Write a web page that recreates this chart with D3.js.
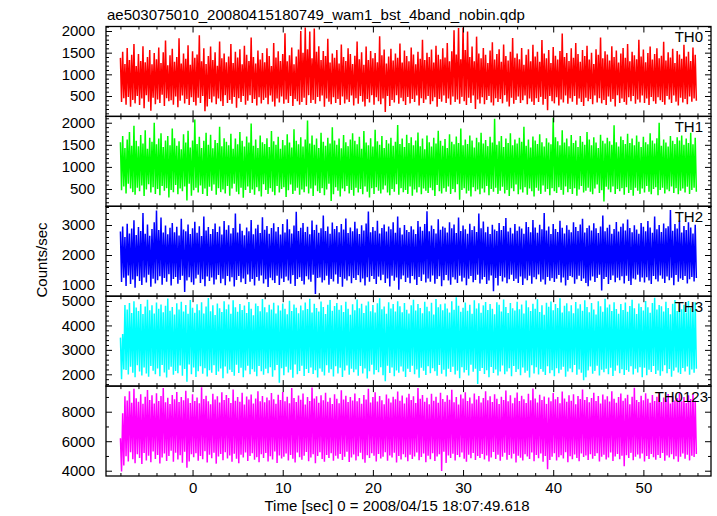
<!DOCTYPE html>
<html>
<head>
<meta charset="utf-8">
<script src="https://cdn.jsdelivr.net/npm/d3@7"></script>
<style>
  html, body { margin: 0; padding: 0; background: #fff; }
  svg { display: block; }
</style>
</head>
<body>
<svg id="chart" width="717" height="516"></svg>
<script>
// ---------------- data ----------------
const chartTitle = "ae503075010_20080415180749_wam1_bst_4band_nobin.qdp";
const xAxisTitle = "Time [sec] 0 = 2008/04/15 18:07:49.618";
const yAxisTitle = "Counts/sec";
const bandNames = ["TH0", "TH1", "TH2", "TH3", "TH0123"];
const timeStart = -8.0;      // sec, first bin
const binWidth = 0.125;      // sec per plotted sample
const xMajorTicks = [0, 10, 20, 30, 40, 50];
const xMinorStep = 2;
const yMajorTicks = [[500, 1000, 1500, 2000], [500, 1000, 1500, 2000], [1000, 2000, 3000], [2000, 3000, 4000, 5000], [4000, 6000, 8000]];
const yMinorStep = [100, 100, 200, 200, 1000];
const yRanges = [[29, 2104], [109, 2143], [627, 3623], [1517, 5196], [3641, 9736]];
const xRange = [-9.6, 57.5];

const th0 = [
1380,360,1520,450,1240,300,1610,480,1330,250,1450,410,1700,330,1190,500,
1470,290,1310,440,1650,220,1280,520,1400,370,1560,160,1230,460,1490,310,
1350,420,1620,340,1260,530,1510,270,1780,450,1210,380,1440,400,1590,300,
1290,490,1400,240,1830,390,1250,510,1480,330,1360,430,1670,290,1220,470,
1530,360,1380,280,1460,460,1900,340,1300,500,1600,150,1240,260,1420,430,
1640,350,1330,490,1510,310,1200,440,1760,380,1370,270,1480,520,1280,340,
1410,410,1700,320,1260,480,1520,230,1390,450,1580,360,1230,500,1660,300,
1450,390,1310,520,1850,340,1400,430,1250,280,1550,470,1340,330,1490,410,
1280,460,1600,310,1420,510,1190,370,1720,260,1390,440,1530,350,1310,490,
1470,320,1950,420,1300,340,1440,500,1620,270,1230,430,1410,380,1570,300,
2000,360,1500,460,2080,290,1580,520,1990,340,1370,410,2060,320,1520,480,
1650,380,1330,510,1540,250,1420,440,1820,370,1270,310,1480,470,1380,340,
1560,430,1250,290,1690,490,1400,330,1310,420,1600,360,1470,510,1240,280,
1430,450,1760,320,1350,500,1510,370,1220,260,1640,430,1330,350,1540,520,
1370,300,1490,470,1280,380,1880,310,1440,440,1570,130,1250,500,1410,270,
1590,410,1320,350,1480,520,1380,320,1710,460,1270,380,1550,290,1420,480,
1300,330,1620,430,1460,360,1230,510,1520,280,1360,450,1800,340,1330,420,
1500,500,1400,310,1570,380,1270,470,1660,250,1450,430,1350,370,1600,510,
1390,340,1720,440,1300,300,1530,490,2020,360,1460,420,2070,320,1350,480,
2080,380,1560,290,1990,460,1400,340,1640,510,1300,200,1870,420,1480,330,
1370,470,1610,310,1450,410,1260,500,1550,350,1740,280,1340,450,1470,360,
1580,430,1290,330,1690,520,1420,370,1320,260,1520,460,1840,320,1380,410,
1480,490,1350,340,1610,400,1220,510,1450,310,1580,440,1300,370,1680,290,
1410,450,1520,360,1290,480,1790,300,1480,430,1370,170,1560,500,1260,380,
1630,330,1430,470,1340,280,1540,420,1940,350,1400,510,1490,320,1310,450,
1600,370,1380,500,1720,300,1470,440,1290,360,1560,270,1420,460,1660,380,
1340,430,1500,310,1240,510,1580,350,1450,450,1850,330,1370,410,1530,290,
1460,490,1320,370,1650,430,1400,260,1550,520,1270,340,1480,440,1610,360,
1380,300,1700,470,1300,380,1520,500,1440,320,1350,420,1800,350,1410,510,
1570,340,1280,440,1490,290,1640,480,1340,380,1470,320,1600,470,1370,400,
1430,360,1750,300,1320,500,1510,420,1390,340,1590,510,1260,370,1540,280,
1460,460,1360,350,1680,430,1410,310,1520,490,1310,370,1620,440,1450,390
];

const th1 = [
1560,470,1700,560,1430,400,1620,620,1790,510,1480,430,1930,370,1590,530,
1470,450,1720,580,1530,340,1830,490,1410,610,1660,420,1570,540,2000,390,
1510,500,1640,360,1760,570,1450,460,1600,520,1700,310,1490,480,1870,430,
1650,590,1480,380,1580,510,1400,450,1740,560,1550,240,1820,620,1440,350,
1600,470,2070,530,1520,420,1680,580,1430,390,1590,510,1770,340,1500,550,
1730,460,1420,600,1610,370,1540,520,1910,430,1470,490,1650,400,1570,570,
1490,350,1750,510,1410,620,1640,440,1510,380,1790,530,1590,300,1460,480,
1690,560,1550,410,1980,490,1480,370,1620,540,1430,450,1710,330,1560,610,
1520,480,1650,390,1450,520,1810,440,1580,360,1500,570,1680,420,1410,500,
1610,540,1490,320,1740,470,1550,600,1440,390,1850,460,1590,530,1510,370,
1670,490,1460,430,1620,560,2050,400,1530,510,1710,340,1500,580,1640,450,
1430,410,1770,520,1570,360,1480,490,1660,620,1530,230,1900,380,1600,540,
1500,460,1640,330,1420,510,1720,450,1560,570,1470,400,1620,480,1760,350,
1590,530,1510,420,1680,500,1410,380,1810,560,1550,440,1490,310,1650,520,
1460,390,1840,540,1580,460,1500,400,1700,490,1430,580,1610,420,1530,360,
1660,500,1480,440,1570,610,1950,370,1520,520,1640,430,1450,480,1730,390,
1540,560,1670,350,1490,490,1600,420,1780,540,1470,380,1640,510,1400,460,
1710,410,1560,530,1460,470,1660,340,1530,590,1820,450,1590,400,1480,520,
1630,440,1430,560,1740,390,1570,500,1510,430,1690,610,1540,260,1870,480,
1490,520,1620,400,1520,460,1710,330,1600,540,1440,450,1660,490,1560,380,
1770,510,1530,420,1610,570,1470,360,1680,500,1550,440,2090,530,1500,390,
1580,460,1700,550,1450,400,1640,480,1540,340,1760,520,1490,450,1620,600,
1530,380,1660,490,1570,420,1910,540,1480,370,1620,510,1440,450,1690,330,
1600,530,1520,460,1740,390,1560,580,1460,440,1650,500,1550,360,1510,520,
2110,450,1670,410,1580,540,1490,480,1830,370,1550,560,1640,430,1470,500,
1720,390,1540,520,1600,350,1450,490,1700,570,1570,420,1500,460,1790,530,
1620,440,1490,380,1670,510,1550,600,1430,410,1730,470,1590,220,1530,550,
1660,490,1580,430,1500,560,1940,390,1560,500,1460,450,1690,520,1610,370,
1520,540,1750,410,1540,480,1640,350,1490,530,1710,460,1570,390,1450,510,
1680,420,1560,570,1510,440,1760,380,1600,500,1530,540,1650,360,2000,480,
1480,530,1620,400,1550,490,1460,450,1700,560,1590,410,1520,520,1670,380,
1600,460,1710,510,1500,420,1640,550,1540,390,1770,480,1510,530,1660,440
];

const th2 = [
2780,1100,2950,1240,2600,970,3040,1320,2720,1030,2880,1180,3160,910,2670,1290,
2930,1130,2800,1000,3400,1250,2710,1080,3020,1340,2640,940,2870,1210,3090,1050,
3480,1160,2830,1290,3250,1010,2750,1230,2980,1110,2690,1360,2910,980,3070,1200,
2760,1270,2940,1040,2650,1170,3210,1310,2850,770,2790,1150,3020,1260,2700,1090,
2890,1010,3110,1220,2740,1340,2960,1070,2630,1190,3280,960,2820,1280,2930,1130,
2700,1250,2870,1020,3050,1180,2770,1330,2950,1060,2680,1210,3130,990,2840,1300,
2990,1120,2720,1260,2900,950,3380,1170,2750,1300,3040,1090,2810,1220,2660,1030,
2920,1350,2790,1110,3170,1200,2690,980,2880,1270,3010,1140,2730,1320,3260,1050,
2840,1190,2970,930,2710,1240,2900,1160,3060,1070,2780,1310,2930,1000,2680,1220,
3030,1100,2750,1280,3190,1150,2860,1040,2720,1330,2980,970,3440,1200,2800,1260,
2910,1130,3070,1020,2770,1290,2940,1180,2690,1110,3150,1340,2830,700,3010,1230,
2740,1250,2890,1080,3320,1160,2800,1310,2950,1010,2710,1200,3080,1120,2870,1350,
2970,1040,2760,1270,3030,940,2850,1210,3220,1150,2730,1290,2920,1060,2790,1230,
3110,1170,2880,1330,2700,1090,2990,1220,2820,980,3050,1260,3450,1110,2760,1300,
2930,1200,2810,1030,3140,1280,2720,1160,2900,1340,3020,1070,2780,1220,2950,950,
2860,1310,3090,1140,2740,1250,3280,840,2910,1190,2680,1320,3000,1100,2830,1240,
2770,1060,2960,1300,2850,1180,2700,1000,3130,1270,2940,1130,2810,1350,3030,1080,
3460,1220,2790,1110,2980,1320,2870,1040,2720,1200,3190,1290,2840,960,2950,1160,
2910,1330,2750,1150,3090,1010,2890,1260,3020,1180,2730,1070,3250,1310,2800,1120,
2980,1240,2860,990,2710,1210,3040,1300,2830,1090,2960,1170,2770,1340,3380,1050,
2890,1180,3120,1270,2760,1030,2940,1150,2700,1320,3010,790,2850,1230,2800,980,
3070,1300,2830,1120,2970,1250,3230,1060,2780,1190,2910,1340,2720,1130,3030,1210,
2810,1070,2950,1280,2880,1000,2710,1220,3100,1160,2930,1310,2760,1040,3170,1260,
2920,1190,2740,1350,3010,1110,2860,1180,3400,1020,2820,1270,2950,1140,2700,1230,
3030,1100,2870,1210,2770,1330,3140,1080,2910,1250,2720,980,2990,1170,2840,1300,
2760,1260,3090,1040,2930,1190,2800,1310,3020,1130,3210,1220,2750,1070,2900,960,
2980,1150,2820,1280,3060,1100,2890,1230,2730,1340,2950,820,3320,1200,2790,1270,
2910,1030,3010,1170,2710,1320,2870,1090,3100,1240,2780,1160,2940,1290,3050,1050,
2820,1310,3180,1130,2900,1000,2760,1220,2990,1180,2850,1340,2710,1110,3070,1250,
2940,1080,2790,1260,3130,1150,2920,1030,2740,1300,3280,1190,2860,1120,3000,1320,
2770,1210,3050,1070,2890,1280,2960,1160,3500,1240,2810,990,3030,1330,2880,1110,
3150,1220,2750,1170,2970,1300,2830,1050,3090,1190,2920,1270,2720,1120,3010,1230
];

const th3 = [
3500,1800,3650,2200,4840,2180,4650,1990,4920,2310,4510,2060,4990,1880,4730,2370,
4590,2110,4880,1950,4470,2280,4770,2030,5050,1900,4620,2340,4830,2150,4490,2000,
4940,2240,4680,1920,4860,2380,4540,2070,4800,1870,5100,2190,4600,2310,4750,1980,
4450,2140,4910,2040,4650,2360,4970,1940,4570,2220,4840,1700,4480,2400,5040,2000,
4720,2280,4520,1890,4870,2130,4620,2330,4950,2020,4490,2250,4770,1910,5120,2170,
4580,2060,4830,2370,4430,1970,4900,2120,4700,2240,4550,1840,4990,2320,4660,2030,
4860,2190,4480,2090,5030,1940,4740,2390,4560,2050,4880,2270,4630,1880,4810,2160,
4510,2350,4960,2000,4680,2210,4420,2100,4900,1920,4790,2340,4580,2130,5080,1980,
4740,2230,4540,2040,4850,2290,4650,1900,4930,2170,4490,2380,4820,1650,4610,2250,
4900,1960,4680,2310,4460,2070,5010,2190,4590,1860,4860,2400,4720,2000,4500,2140,
4810,2350,4620,1930,4940,2220,4670,2050,5090,2280,4530,2010,4890,2170,4710,1870,
4570,2240,4980,2100,4750,1950,4470,2370,4850,2060,5040,2210,4600,1910,4790,2330,
4920,2030,4640,2270,4830,1890,4550,2160,4970,2360,4680,1980,4440,2230,4870,2080,
4620,2200,5060,1940,4700,2340,4890,2030,4510,2240,4810,1830,4980,2130,4580,2390,
4840,1990,4530,2180,4910,2080,5110,2290,4660,1960,4770,1720,4480,2350,4950,2050,
4690,2280,4880,1920,4570,2160,4990,2060,4780,2320,4540,2110,4920,1890,4640,2230,
4490,2090,4830,2350,5050,2000,4610,2200,4880,1860,4710,2270,4500,2150,4970,1970,
4760,2330,4580,2040,4930,2250,4450,2130,5080,1940,4740,2380,4870,2020,4620,2190,
4900,1910,4690,2230,4530,2090,4990,2310,4640,1990,5150,2150,4800,1840,4560,2290,
4720,2070,4940,2180,4600,1950,4850,2390,4480,2100,5030,2230,4690,1600,4910,2140,
4520,2260,4820,2010,4960,2170,4630,1880,4880,2300,4680,2050,4460,2200,4950,1950,
4850,2120,4570,2360,5060,2000,4750,2110,4510,2250,4920,1920,4700,2340,4610,2090,
4970,2210,4660,1960,4860,2280,4490,2060,5020,2150,4740,1870,4590,2370,4890,2030,
4680,2290,5070,1990,4550,2220,4830,2100,4440,1970,4930,2330,4760,2040,4980,2170,
4620,1920,4880,2250,4710,2040,5110,2190,4530,2310,4800,1900,4910,2120,4580,2240,
4830,2080,4500,2380,4960,1980,4690,2200,4870,2060,4600,1760,5030,1880,4750,2160,
4540,2320,4920,2020,4650,2140,4450,2350,4990,1950,4780,2190,4560,2080,5090,2230,
4730,2000,4860,2270,4590,1930,4950,2150,4670,2360,4480,2040,4880,2210,4630,1970,
4940,2180,4560,2100,4790,2330,5050,1990,4700,2230,4470,2070,4900,2290,4750,1880,
4610,2270,5000,1960,4740,2190,4520,2090,4920,2340,5130,2010,4650,2160,4840,1940,
4780,2130,4570,2370,4970,2040,4710,2220,4460,1900,4890,2150,5040,2280,4590,2070,
4900,2010,4660,2260,4850,2110,4530,2320,5000,1980,4720,2200,4600,2060,4950,2230
];

const th0123 = [
6200,3950,7900,4350,9050,4980,8760,4620,9380,5250,8600,4770,9560,4510,8910,5120,
8680,4870,9180,4450,8530,5200,9010,4700,9470,5020,8800,4580,9110,5310,8560,4800,
9250,5070,8720,4490,9060,4900,9600,5160,8640,4660,8950,5000,8520,5350,9140,4600,
8840,5220,9330,4760,8650,5050,9000,4540,8780,5290,9420,4200,8910,4630,8590,5110,
9190,4920,8730,5180,8970,4680,8570,5000,9650,4780,8860,5320,9080,4560,8700,5080,
8510,4850,9220,5210,8830,4480,9040,4960,8620,5130,9310,4710,8790,5260,9130,4820,
8920,5030,8590,4610,9500,5150,8740,4810,9000,4500,8680,5090,9280,4890,8480,5240,
9030,4660,8820,5000,9160,5180,8550,4740,8900,4920,9390,4580,8710,5120,9070,4870,
8640,5200,8970,4630,8770,4980,9260,4760,8850,5300,8540,4520,9150,5040,8800,4830,
9340,4950,8700,5160,9010,4690,8580,5070,9600,4810,8930,4560,8660,5230,9100,4910,
8810,4740,9230,5010,8490,5270,8990,4650,8730,4900,9640,5120,8890,4500,9050,4990,
8610,5250,9120,4790,8780,4610,9290,5060,8680,4870,8950,5190,8520,4670,9190,5020,
8870,4820,8570,5140,9450,4730,8830,4950,9080,5280,8650,4590,9000,4900,8760,5100,
9240,4700,8710,4980,8930,5220,8530,4770,9140,4540,8820,5050,9550,4860,8620,5180,
8990,5010,9310,4620,8690,5130,9060,4830,8780,4940,8500,5260,9170,4680,8900,5040,
8630,4890,9020,5210,8840,4550,9370,5000,8740,4760,9100,5120,8560,4910,8960,4640,
9220,5080,8790,4800,9050,4960,8590,5240,9610,4710,8880,4930,9130,5160,8670,4580,
8950,5020,8510,4780,9210,5190,8750,4660,9010,4970,8600,5110,9280,3980,8860,5280,
8680,4530,9110,5040,8810,4870,9480,5150,8640,4690,8990,5060,8480,4920,9160,5230,
8900,4810,9320,4600,8720,5090,8970,4850,8550,5200,9240,4720,8830,5000,9070,4870,
8630,5140,8930,4760,9390,5030,8770,4630,9040,4900,8660,5270,9190,4790,8880,5080,
8520,4670,9010,4950,8790,5220,9430,4740,8700,5070,9120,4830,8570,5150,8950,4560,
9300,5010,8730,4880,9080,4700,8850,5110,8590,4960,9210,4800,8780,5230,9580,4650,
8890,5060,8620,4840,9150,5170,8800,4610,9030,4990,8530,4100,8960,4730,8700,4940,
9260,5190,8840,4690,9000,4910,8580,5050,9370,4820,8900,5250,8670,4580,9120,4980,
8750,4770,9190,5100,8500,4870,9060,4650,8860,5160,9500,4930,8800,5040,9000,4720,
8640,5120,8920,4810,9280,5000,8720,5180,9070,4630,8560,4950,9160,5090,8830,4760,
9040,4890,8690,5230,9390,4660,8870,4970,8610,5130,8990,4780,9230,5020,8740,4300,
8910,5050,9150,4870,8510,5210,9020,4710,9630,4940,8800,5100,8650,4830,9080,5170,
8780,4620,9250,4990,8880,4800,8600,5140,9130,4920,8720,4740,9010,5060,9340,4860,
8660,5200,8970,4670,8830,5030,9200,4890,8550,5110,9060,4770,8760,4980,8920,4600,
9290,4950,8710,5160,9000,4810,8590,5080,9110,4700,8860,5020,9180,4930,8740,5130
];

const seriesValues = [th0, th1, th2, th3, th0123];
const seriesColors = ["#ff0000", "#00ff00", "#0000ff", "#00ffff", "#ff00ff"];

// ---------------- layout ----------------
const FONT = "'Liberation Sans', Arial, Helvetica, sans-serif";
const FS = 15;
const plotLeft = 106, plotRight = 711, plotTop = 26.5, plotBottom = 476;
const nPanels = seriesValues.length;
const panelH = (plotBottom - plotTop) / nPanels;
const majorLen = 6, minorLen = 3;

const svg = d3.select("#chart");
svg.append("rect").attr("width", 717).attr("height", 516).attr("fill", "#fff");

const x = d3.scaleLinear().domain(xRange).range([plotLeft, plotRight]);
const xMinorTicks = d3.range(-8, 57, xMinorStep).filter(v => !xMajorTicks.includes(v));

function styleAxis(g) {
  g.select(".domain").remove();
  g.attr("font-family", FONT).attr("font-size", FS);
  g.selectAll("line").attr("stroke", "#000").attr("stroke-width", 1);
  g.selectAll("text").attr("fill", "#000");
}

seriesValues.forEach((vals, k) => {
  const y0 = plotTop + k * panelH;
  const y1 = y0 + panelH;
  const y = d3.scaleLinear().domain(yRanges[k]).range([y1, y0]);

  const clipId = "clip" + k;
  svg.append("clipPath").attr("id", clipId)
    .append("rect").attr("x", plotLeft).attr("y", y0)
    .attr("width", plotRight - plotLeft).attr("height", panelH);

  const line = d3.line()
    .x((d, i) => x(timeStart + i * binWidth))
    .y(d => y(d));

  svg.append("path")
    .datum(vals)
    .attr("clip-path", `url(#${clipId})`)
    .attr("fill", "none")
    .attr("stroke", seriesColors[k])
    .attr("stroke-width", 1.5)
    .attr("stroke-linejoin", "bevel")
    .attr("d", line);

  // x ticks top & bottom
  const isLast = k === nPanels - 1;
  svg.append("g").attr("transform", `translate(0,${y1})`)
    .call(d3.axisBottom(x).tickValues(xMajorTicks).tickSize(-majorLen).tickPadding(6)
      .tickFormat(isLast ? d3.format("d") : () => ""))
    .call(styleAxis);
  svg.append("g").attr("transform", `translate(0,${y1})`)
    .call(d3.axisBottom(x).tickValues(xMinorTicks).tickSize(-minorLen).tickFormat(() => ""))
    .call(styleAxis);
  svg.append("g").attr("transform", `translate(0,${y0})`)
    .call(d3.axisTop(x).tickValues(xMajorTicks).tickSize(-majorLen).tickFormat(() => ""))
    .call(styleAxis);
  svg.append("g").attr("transform", `translate(0,${y0})`)
    .call(d3.axisTop(x).tickValues(xMinorTicks).tickSize(-minorLen).tickFormat(() => ""))
    .call(styleAxis);

  // y ticks left & right
  const [lo, hi] = yRanges[k];
  const step = yMinorStep[k];
  const yMinor = d3.range(Math.ceil(lo / step) * step, hi, step).filter(v => !yMajorTicks[k].includes(v));
  svg.append("g").attr("transform", `translate(${plotLeft},0)`)
    .call(d3.axisLeft(y).tickValues(yMajorTicks[k]).tickSize(-majorLen).tickPadding(11).tickFormat(d3.format("d")))
    .call(styleAxis);
  svg.append("g").attr("transform", `translate(${plotLeft},0)`)
    .call(d3.axisLeft(y).tickValues(yMinor).tickSize(-minorLen).tickFormat(() => ""))
    .call(styleAxis);
  svg.append("g").attr("transform", `translate(${plotRight},0)`)
    .call(d3.axisRight(y).tickValues(yMajorTicks[k]).tickSize(-majorLen).tickFormat(() => ""))
    .call(styleAxis);
  svg.append("g").attr("transform", `translate(${plotRight},0)`)
    .call(d3.axisRight(y).tickValues(yMinor).tickSize(-minorLen).tickFormat(() => ""))
    .call(styleAxis);

  // frame
  svg.append("rect")
    .attr("x", plotLeft).attr("y", y0)
    .attr("width", plotRight - plotLeft).attr("height", panelH)
    .attr("fill", "none").attr("stroke", "#000").attr("stroke-width", 1.3);

  // band label
  svg.append("text")
    .attr("x", isLast ? 708 : 703).attr("y", y0 + 15.5)
    .attr("text-anchor", "end")
    .attr("font-family", FONT).attr("font-size", FS).attr("fill", "#000")
    .text(bandNames[k]);
});

// titles
svg.append("text").attr("x", 107).attr("y", 20)
  .attr("font-family", FONT).attr("font-size", FS).attr("fill", "#000")
  .text(chartTitle);
svg.append("text").attr("x", 397).attr("y", 511)
  .attr("text-anchor", "middle")
  .attr("font-family", FONT).attr("font-size", FS).attr("fill", "#000")
  .text(xAxisTitle);
svg.append("text")
  .attr("transform", "translate(47,260) rotate(-90)")
  .attr("text-anchor", "middle")
  .attr("font-family", FONT).attr("font-size", FS).attr("fill", "#000")
  .text(yAxisTitle);
</script>
</body>
</html>
